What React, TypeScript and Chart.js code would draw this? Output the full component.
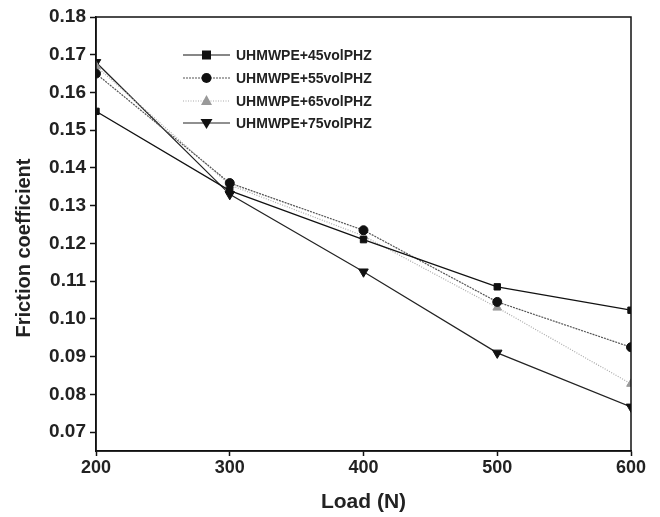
import React, { useEffect, useRef } from "react";
import { Chart, registerables } from "chart.js";
Chart.register(...registerables);

const loads = [200, 300, 400, 500, 600];
const vol45 = [0.155, 0.134, 0.121, 0.1085, 0.1023];
const vol55 = [0.165, 0.136, 0.1235, 0.1045, 0.0925];
const vol65 = [0.167, 0.1355, 0.122, 0.103, 0.0828];
const vol75 = [0.168, 0.133, 0.1125, 0.091, 0.0767];
const seriesNames = ["UHMWPE+45volPHZ", "UHMWPE+55volPHZ", "UHMWPE+65volPHZ", "UHMWPE+75volPHZ"];
const yTitle = "Friction coefficient";
const xTitle = "Load (N)";

const FONT = "'Liberation Sans', Arial, sans-serif";

const styles = [
  { color: "#111", dash: [] as number[], point: "rect", rot: 0, fill: "#111", r: 4.5 },
  { color: "#555", dash: [2, 1], point: "circle", rot: 0, fill: "#111", r: 4.5 },
  { color: "#aaa", dash: [1, 1.5], point: "triangle", rot: 0, fill: "#999", r: 5 },
  { color: "#222", dash: [] as number[], point: "triangle", rot: 180, fill: "#111", r: 5.5 },
];

const frameAndLegend = {
  id: "frameAndLegend",
  afterDraw(chart: any) {
    const { ctx, chartArea } = chart;
    ctx.save();
    ctx.strokeStyle = "#111";
    ctx.lineWidth = 1.5;
    ctx.strokeRect(chartArea.left, chartArea.top, chartArea.right - chartArea.left, chartArea.bottom - chartArea.top);
    // y title
    ctx.save();
    ctx.translate(24, chartArea.top + 231);
    ctx.rotate(-Math.PI / 2);
    ctx.font = `bold 20px ${FONT}`;
    ctx.fillStyle = "#222";
    ctx.textAlign = "center";
    ctx.textBaseline = "middle";
    ctx.fillText(yTitle, 0, 0);
    ctx.restore();
    // legend
    const x0 = chartArea.left + 87;
    const x1 = chartArea.left + 134;
    const ys = [55, 78, 101, 123];
    ctx.font = `bold 14px ${FONT}`;
    ctx.textBaseline = "middle";
    styles.forEach((s, i) => {
      const y = ys[i];
      ctx.setLineDash(s.dash);
      ctx.strokeStyle = s.color;
      ctx.lineWidth = 1.2;
      ctx.beginPath();
      ctx.moveTo(x0, y);
      ctx.lineTo(x1, y);
      ctx.stroke();
      ctx.setLineDash([]);
      ctx.fillStyle = s.fill;
      const cx = (x0 + x1) / 2;
      ctx.beginPath();
      if (s.point === "rect") {
        ctx.rect(cx - 4.5, y - 4.5, 9, 9);
      } else if (s.point === "circle") {
        ctx.arc(cx, y, 5, 0, Math.PI * 2);
      } else if (s.rot === 0) {
        ctx.moveTo(cx, y - 6);
        ctx.lineTo(cx + 5.5, y + 4);
        ctx.lineTo(cx - 5.5, y + 4);
        ctx.closePath();
      } else {
        ctx.moveTo(cx, y + 6);
        ctx.lineTo(cx + 6, y - 4);
        ctx.lineTo(cx - 6, y - 4);
        ctx.closePath();
      }
      ctx.fill();
      ctx.fillStyle = "#222";
      ctx.fillText(seriesNames[i], x1 + 6, y + 1);
    });
    ctx.restore();
  },
};

export default function App() {
  const ref = useRef<HTMLCanvasElement>(null);
  useEffect(() => {
    document.body.style.margin = "0";
    const data = [vol45, vol55, vol65, vol75];
    const chart = new Chart(ref.current!, {
      type: "line",
      data: {
        datasets: data.map((d, i) => ({
          label: seriesNames[i],
          data: loads.map((x, j) => ({ x, y: d[j] })),
          borderColor: styles[i].color,
          borderWidth: 1.2,
          borderDash: styles[i].dash,
          pointStyle: styles[i].point as any,
          pointRotation: styles[i].rot,
          pointRadius: styles[i].r,
          pointBackgroundColor: styles[i].fill,
          pointBorderColor: styles[i].fill,
          pointBorderWidth: 1,
          tension: 0,
        })),
      },
      options: {
        animation: false,
        responsive: false,
        maintainAspectRatio: false,
        layout: { padding: { top: 17, right: 29, left: 0, bottom: 0 } },
        plugins: { legend: { display: false }, tooltip: { enabled: false } },
        scales: {
          x: {
            type: "linear",
            min: 200,
            max: 600,
            afterFit(scale: any) { scale.height = 66; },
            ticks: { stepSize: 100, color: "#222", font: { family: FONT, size: 18, weight: "bold" }, padding: 1 },
            grid: { drawOnChartArea: false, tickLength: 5, tickColor: "#111", tickWidth: 1.5 },
            border: { color: "#111", width: 1.5 },
            title: { display: true, text: xTitle, color: "#222", font: { family: FONT, size: 21, weight: "bold" }, padding: { top: 6, bottom: 2 } },
          },
          y: {
            type: "linear",
            min: 0.065,
            max: 0.18,
            afterFit(scale: any) { scale.width = 96; },
            afterBuildTicks(scale: any) {
              const t = [];
              for (let v = 7; v <= 18; v++) t.push({ value: v / 100 });
              scale.ticks = t;
            },
            ticks: { color: "#222", font: { family: FONT, size: 19, weight: "bold" }, padding: 4, callback: (v: any) => Number(v).toFixed(2) },
            grid: { drawOnChartArea: false, tickLength: 6, tickColor: "#111", tickWidth: 1.5 },
            border: { color: "#111", width: 1.5 },
          },
        },
      },
      plugins: [frameAndLegend],
    });
    return () => chart.destroy();
  }, []);
  return (
    <div style={{ position: "absolute", left: 0, top: 0, width: 660, height: 517, background: "#fff" }}>
      <canvas ref={ref} width={660} height={517} />
    </div>
  );
}
